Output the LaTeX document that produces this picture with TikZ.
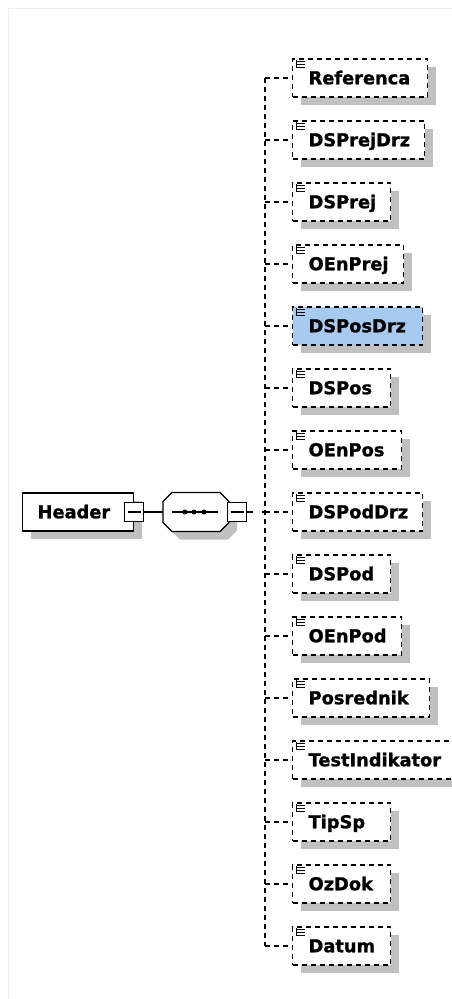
\documentclass[tikz,border=0pt]{standalone}
\usepackage{fontspec}
\setmainfont{DejaVu Sans}[BoldFeatures={FakeBold=1.2}]
\usetikzlibrary{shadows,calc}
\definecolor{shadowgray}{RGB}{192,192,192}
\definecolor{selblue}{RGB}{166,202,240}
\definecolor{framegray}{RGB}{238,238,238}
\begin{document}
\begin{tikzpicture}[x=1pt,y=-1pt,
  boxshadow/.style={drop shadow={shadow xshift=8pt,shadow yshift=-8pt,fill=shadowgray,opacity=1}},
  lbl/.style={font=\bfseries\fontsize{17.8}{18}\selectfont, text height=12.5pt, text depth=0pt, align=left},
  elem/.style={lbl, draw=black, line width=1.2pt, dash pattern=on 5pt off 4pt, rectangle,
    minimum height=38pt, inner xsep=16pt, inner ysep=0pt, anchor=west, boxshadow},
  hdrbox/.style={lbl, draw=black, line width=1.2pt, rectangle, fill=white,
    minimum height=38pt, inner xsep=15pt, inner ysep=0pt, anchor=west, boxshadow},
  seqanchor/.style={rectangle, draw=none, minimum width=66pt, minimum height=39pt, inner sep=0pt},
  octline/.style={draw=black, line width=1.2pt, fill=white},
  minusbox/.style={draw=black, line width=1.2pt, fill=white, rectangle, minimum width=19pt, minimum height=19pt, inner sep=0pt,
    path picture={\draw[line width=1.2pt] ([xshift=3pt]path picture bounding box.west) -- ([xshift=-3pt]path picture bounding box.east);}},
  sline/.style={draw=black, line width=1.2pt},
  dline/.style={draw=black, line width=1.2pt, dash pattern=on 5pt off 4pt},
  iconline/.style={draw=black, line width=0.9pt},
  seqdot/.style={fill=black, circle, inner sep=0pt, minimum size=5pt}
]
\useasboundingbox (0,0) rectangle (452,999);
\fill[white] (0,0) rectangle (452,999);
\draw[framegray, line width=1pt] (8,999) -- (8,8) -- (452,8);

% trunk coordinates
\foreach \i in {0,...,14} {
  \pgfmathsetmacro\yy{78+62*\i}
  \coordinate (t\i) at (265,\yy);
}
\draw[dline] (t0) -- (t14);

% children
\foreach \i/\name/\r/\fc in {0/Referenca/427/white, 1/DSPrejDrz/424/white, 2/DSPrej/390/white,
   3/OEnPrej/403/white, 4/DSPosDrz/422/selblue, 5/DSPos/390/white, 6/OEnPos/401/white,
   7/DSPodDrz/422/white, 8/DSPod/390/white, 9/OEnPod/401/white, 10/Posrednik/429/white,
   11/TestIndikator/459/white, 12/TipSp/390/white, 13/OzDok/390/white, 14/Datum/390/white} {
  \pgfmathsetmacro\yy{78+62*\i}
  \pgfmathsetmacro\tw{\r-292-32}
  \draw[dline] (t\i) -- (292,\yy);
  \node[elem, fill=\fc, text width=\tw pt] (c\i) at (292,\yy) {\name};
  \draw[iconline] ($(c\i.north west)+(4.5,2)$) -- ($(c\i.north west)+(4.5,10)$);
  \foreach \k in {3,6,9} {
    \draw[iconline] ($(c\i.north west)+(4.5,\k)$) -- ($(c\i.north west)+(13,\k)$);
  }
}

% header
\node[hdrbox, text width=81pt] (hdr) at (22,512) {Header};
\node[minusbox] (hm) at (hdr.east) {};

% sequence compositor (octagon)
\node[seqanchor] (seq) at (196,512) {};
\begin{scope}[shift={($(seq.center)+(8,8)$)}]
  \fill[shadowgray] (-33,-10.5) -- (-24,-19.5) -- (24,-19.5) -- (33,-10.5) -- (33,10.5) -- (24,19.5) -- (-24,19.5) -- (-33,10.5) -- cycle;
\end{scope}
\begin{scope}[shift={(seq.center)}]
  \path[octline] (-33,-10.5) -- (-24,-19.5) -- (24,-19.5) -- (33,-10.5) -- (33,10.5) -- (24,19.5) -- (-24,19.5) -- (-33,10.5) -- cycle;
\end{scope}
\node[minusbox] (sm) at ($(seq.east)+(8,0)$) {};
\draw[sline] ($(seq.center)+(-24,0)$) -- ($(seq.center)+(22,0)$);
\node[seqdot] (d1) at ($(seq.center)+(-11,0)$) {};
\node[seqdot] (d2) at ($(seq.center)+(-2,0)$) {};
\node[seqdot] (d3) at ($(seq.center)+(8,0)$) {};

\draw[sline] (hm.east) -- (seq.west);
\coordinate (j0) at (253,512);
\coordinate (j1) at (262,512);
\draw[sline] (sm.east) -- (j0);
\draw[sline] (j1) -- (t7);
\end{tikzpicture}
\end{document}
